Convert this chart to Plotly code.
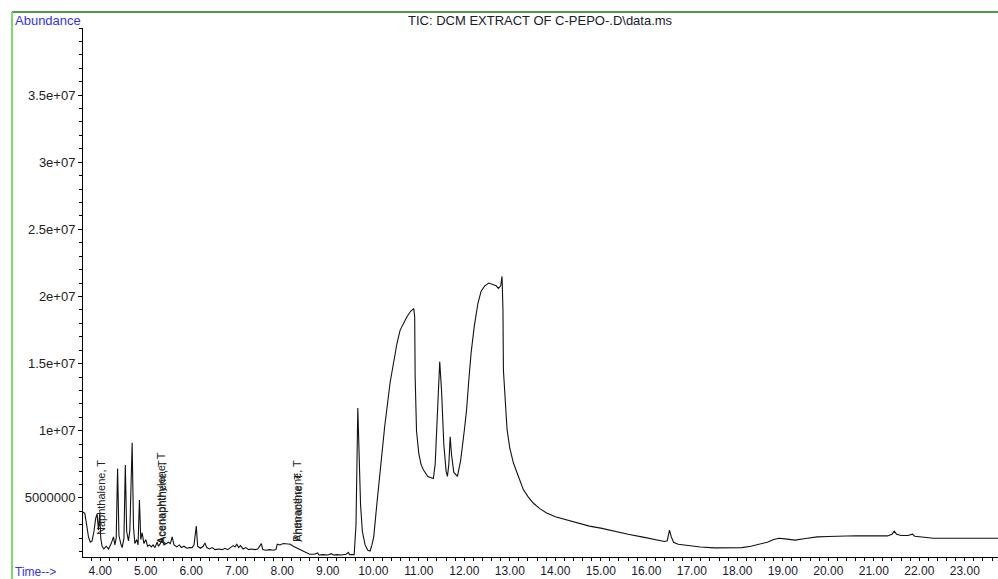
import plotly.graph_objects as go

# Retention time (min) and abundance
time_min = [3.62, 3.66, 3.70, 3.74, 3.78, 3.82, 3.86, 3.90, 3.93, 3.96, 3.99, 4.01, 4.04, 4.08, 4.13, 4.18,
            4.24, 4.29, 4.32, 4.35, 4.38, 4.41, 4.45, 4.48, 4.52, 4.55, 4.58, 4.62, 4.65, 4.70, 4.73, 4.76,
            4.80, 4.83, 4.86, 4.89, 4.92, 4.96, 5.00, 5.04, 5.08, 5.12, 5.16, 5.20, 5.25, 5.28, 5.32, 5.36,
            5.40, 5.45, 5.50, 5.54, 5.58, 5.62, 5.68, 5.74, 5.78, 5.84, 5.90, 5.96, 6.02, 6.06, 6.11, 6.14,
            6.20, 6.26, 6.30, 6.34, 6.40, 6.46, 6.52, 6.60, 6.68, 6.74, 6.80, 6.86, 6.92, 6.96, 7.00, 7.04,
            7.08, 7.14, 7.20, 7.26, 7.32, 7.40, 7.46, 7.54, 7.57, 7.64, 7.72, 7.80, 7.86, 7.89, 7.95, 8.02,
            8.10, 8.18, 8.24, 8.30, 8.40, 8.50, 8.60, 8.70, 8.78, 8.80, 8.90, 9.00, 9.08, 9.12, 9.20, 9.30,
            9.40, 9.45, 9.48, 9.58, 9.62, 9.66, 9.69, 9.72, 9.76, 9.82, 9.88, 9.93, 9.97, 10.01, 10.08, 10.15,
            10.25, 10.37, 10.45, 10.52, 10.59, 10.66, 10.74, 10.82, 10.89, 10.91, 10.92, 10.95, 11.00, 11.05,
            11.10, 11.20, 11.32, 11.36, 11.40, 11.46, 11.50, 11.55, 11.60, 11.63, 11.66, 11.69, 11.72, 11.77,
            11.85, 11.92, 12.00, 12.05, 12.10, 12.15, 12.22, 12.30, 12.37, 12.45, 12.54, 12.62, 12.70, 12.75,
            12.80, 12.83, 12.85, 12.86, 12.90, 12.94, 13.00, 13.08, 13.20, 13.30, 13.40, 13.52, 13.66, 13.80,
            14.00, 14.20, 14.50, 14.75, 15.00, 15.30, 15.60, 15.90, 16.20, 16.40, 16.46, 16.51, 16.55, 16.60,
            16.70, 16.90, 17.19, 17.50, 17.80, 18.10, 18.30, 18.50, 18.66, 18.80, 18.92, 19.05, 19.27, 19.50,
            19.76, 20.00, 20.26, 20.60, 21.00, 21.30, 21.40, 21.45, 21.50, 21.60, 21.75, 21.85, 21.90, 22.10,
            22.31, 22.60, 23.00, 23.40, 23.73]

abundance = [3.95e6, 3.85e6, 3.0e6, 2.1e6, 1.7e6, 1.8e6, 2.5e6, 3.5e6, 3.8e6, 2.6e6, 3.9e6, 2.0e6, 1.4e6, 1.2e6, 1.4e6, 1.2e6,
             1.6e6, 2.1e6, 1.5e6, 2.0e6, 7.2e6, 2.2e6, 1.6e6, 1.3e6, 2.0e6, 7.45e6, 2.5e6, 1.8e6, 2.6e6, 9.1e6, 2.8e6, 1.6e6,
             1.9e6, 1.5e6, 4.85e6, 1.9e6, 2.4e6, 1.6e6, 1.9e6, 1.4e6, 1.5e6, 1.35e6, 1.5e6, 1.3e6, 1.7e6, 1.4e6, 1.6e6, 2.0e6,
             1.5e6, 1.6e6, 1.7e6, 1.6e6, 2.1e6, 1.5e6, 1.35e6, 1.5e6, 1.3e6, 1.4e6, 1.25e6, 1.3e6, 1.3e6, 1.5e6, 2.9e6, 1.4e6,
             1.25e6, 1.4e6, 1.65e6, 1.3e6, 1.2e6, 1.3e6, 1.15e6, 1.2e6, 1.15e6, 1.25e6, 1.15e6, 1.3e6, 1.45e6, 1.35e6, 1.55e6, 1.3e6,
             1.45e6, 1.2e6, 1.3e6, 1.15e6, 1.2e6, 1.15e6, 1.2e6, 1.6e6, 1.15e6, 1.1e6, 1.15e6, 1.1e6, 1.15e6, 1.55e6, 1.5e6, 1.6e6,
             1.55e6, 1.55e6, 1.4e6, 1.3e6, 1.1e6, 0.95e6, 0.8e6, 0.8e6, 0.9e6, 0.75e6, 0.78e6, 0.75e6, 0.85e6, 0.75e6, 0.78e6, 0.75e6,
             0.8e6, 0.95e6, 0.78e6, 0.78e6, 3.0e6, 11.7e6, 8.0e6, 4.5e6, 2.5e6, 1.5e6, 1.1e6, 1.05e6, 1.5e6, 2.1e6, 4.6e6, 7.1e6,
             10.3e6, 13.6e6, 15.3e6, 16.5e6, 17.5e6, 18.0e6, 18.5e6, 18.9e6, 19.1e6, 18.5e6, 14.0e6, 10.0e6, 8.3e6, 7.5e6,
             7.1e6, 6.6e6, 6.45e6, 7.5e6, 11.0e6, 15.15e6, 13.0e6, 9.0e6, 7.0e6, 6.6e6, 7.5e6, 9.56e6, 8.2e6, 6.9e6,
             6.6e6, 7.8e6, 10.0e6, 11.55e6, 13.8e6, 15.8e6, 17.8e6, 19.5e6, 20.4e6, 20.8e6, 21.0e6, 20.9e6, 20.8e6, 20.6e6,
             20.8e6, 21.5e6, 19.0e6, 14.5e6, 11.8e6, 10.1e6, 8.7e6, 7.6e6, 6.5e6, 5.6e6, 5.1e6, 4.6e6, 4.2e6, 3.9e6,
             3.6e6, 3.4e6, 3.1e6, 2.9e6, 2.75e6, 2.5e6, 2.3e6, 2.1e6, 1.9e6, 1.75e6, 1.8e6, 2.6e6, 2.1e6, 1.7e6,
             1.55e6, 1.45e6, 1.35e6, 1.28e6, 1.27e6, 1.3e6, 1.4e6, 1.55e6, 1.7e6, 1.9e6, 2.0e6, 1.95e6, 1.86e6, 1.98e6,
             2.1e6, 2.13e6, 2.16e6, 2.18e6, 2.17e6, 2.17e6, 2.3e6, 2.53e6, 2.3e6, 2.2e6, 2.2e6, 2.3e6, 2.15e6, 2.1e6,
             2.0e6, 2.0e6, 2.0e6, 2.0e6, 2.0e6]

# Peak labels
label_text = ["Naphthalene, T", "Acenaphthylene, T", "Acenaphthene, T", "Phenanthrene, T", "Anthracene, T"]
label_time = [4.03, 5.33, 5.37, 8.31, 8.34]
label_base = [2.1e6, 1.4e6, 1.4e6, 1.6e6, 1.6e6]

x_tick_vals = [4, 5, 6, 7, 8, 9, 10, 11, 12, 13, 14, 15, 16, 17, 18, 19, 20, 21, 22, 23]
x_tick_text = ["4.00", "5.00", "6.00", "7.00", "8.00", "9.00", "10.00", "11.00", "12.00", "13.00",
               "14.00", "15.00", "16.00", "17.00", "18.00", "19.00", "20.00", "21.00", "22.00", "23.00"]
y_tick_vals = [5e6, 1e7, 1.5e7, 2e7, 2.5e7, 3e7, 3.5e7]
y_tick_text = ["5000000", "1e+07", "1.5e+07", "2e+07", "2.5e+07", "3e+07", "3.5e+07"]

FONT = "Liberation Sans, Arial, sans-serif"

fig = go.Figure()
fig.add_trace(go.Scatter(x=time_min, y=abundance, mode="lines",
                         line=dict(color="#111", width=1.1), hoverinfo="x+y", showlegend=False))

for txt, t, b in zip(label_text, label_time, label_base):
    fig.add_annotation(x=t, y=b, xref="x", yref="y", text=txt, showarrow=False,
                       textangle=-90, xanchor="center", yanchor="bottom",
                       font=dict(family=FONT, size=11, color="#222"))

fig.add_annotation(x=0.5005, y=1.015, xref="paper", yref="paper",
                   text="TIC: DCM EXTRACT OF C-PEPO-.D\\data.ms", showarrow=False,
                   xanchor="center", yanchor="middle", font=dict(family=FONT, size=13, color="#1a1a2e"))
fig.add_annotation(x=-0.0765, y=1.015, xref="paper", yref="paper", text="Abundance", showarrow=False,
                   xanchor="left", yanchor="middle", font=dict(family=FONT, size=13, color="#3333ee"))
fig.add_annotation(x=-0.0765, y=-0.028, xref="paper", yref="paper", text="Time-->", showarrow=False,
                   xanchor="left", yanchor="middle", font=dict(family=FONT, size=12, color="#3333ee"))

# green frame
fig.add_shape(type="line", xref="paper", yref="paper", x0=-0.0776, x1=1.0, y0=1.0302, y1=1.0302,
              line=dict(color="#4f9a4f", width=2))
fig.add_shape(type="line", xref="paper", yref="paper", x0=-0.0776, x1=-0.0776, y0=-0.05, y1=1.0302,
              line=dict(color="#77dd66", width=2))

fig.update_layout(
    width=998, height=579,
    margin=dict(l=83, r=0, t=28, b=22, autoexpand=False),
    plot_bgcolor="white", paper_bgcolor="white",
    font=dict(family=FONT, size=13, color="#222"),
    xaxis=dict(range=[3.62, 23.73], tickvals=x_tick_vals, ticktext=x_tick_text,
               tickfont=dict(size=12, color="#1a1a2e"),
               showgrid=False, zeroline=False, showline=True, linecolor="black", linewidth=1,
               ticks="outside", ticklen=3, tickcolor="black", automargin=False,
               minor=dict(dtick=0.2, ticks="outside", ticklen=3, tickcolor="black", showgrid=False)),
    yaxis=dict(range=[0.6e6, 4.0e7], tickvals=y_tick_vals, ticktext=y_tick_text,
               showgrid=False, zeroline=False, showline=True, linecolor="black", linewidth=1,
               ticks="outside", ticklen=4, tickcolor="black", automargin=False,
               minor=dict(dtick=1e6, tick0=0, ticks="outside", ticklen=3, tickcolor="black", showgrid=False)),
)

fig.write_html("out.html", config={"displayModeBar": False},
               post_script="document.body.style.margin='0';document.body.style.overflow='hidden';")
